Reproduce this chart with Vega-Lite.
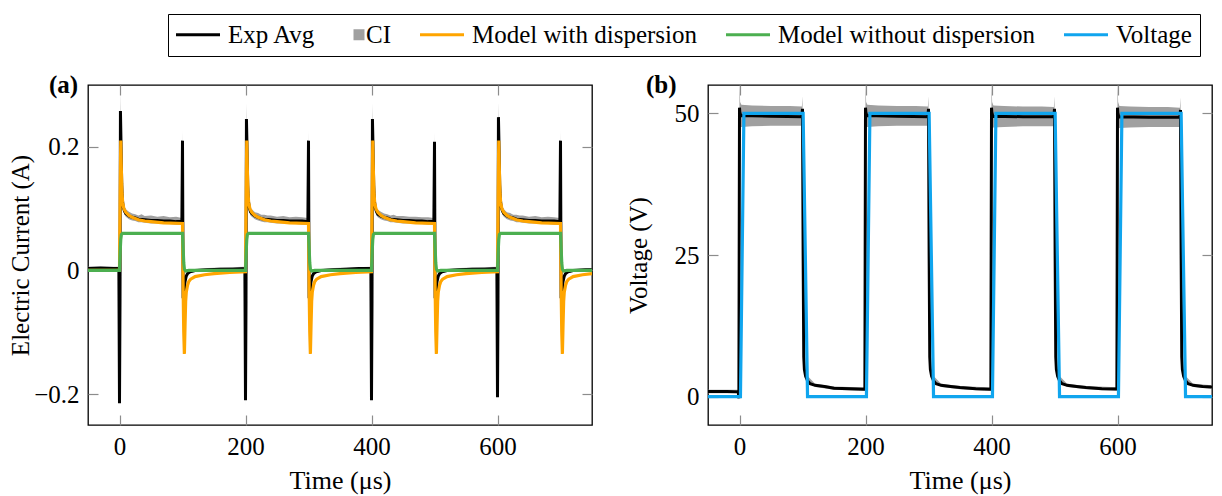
{
  "$schema": "https://vega.github.io/schema/vega-lite/v6.json",
  "padding": {"left": 8, "top": 13, "right": 5, "bottom": 5},
  "background": "white",
  "config": {
    "font": "'Liberation Serif', 'Times New Roman', Times, serif",
    "view": {"stroke": "black", "strokeWidth": 1.3},
    "axis": {
      "labelFont": "'Liberation Serif', 'Times New Roman', Times, serif", "labelFontSize": 25, "labelColor": "black",
      "titleFont": "'Liberation Serif', 'Times New Roman', Times, serif", "titleFontSize": 25, "titleFontWeight": "normal", "titleColor": "black",
      "tickColor": "#8c8c8c", "tickSize": -10, "tickWidth": 1.2, "labelPadding": 19,
      "domain": false, "grid": false
    },
    "legend": {
      "labelFont": "'Liberation Serif', 'Times New Roman', Times, serif", "labelFontSize": 25, "labelColor": "black"
    },
    "title": {"font": "'Liberation Serif', 'Times New Roman', Times, serif"}
  },
  "datasets": {
    "cur": [
      {"s": "Exp Avg", "t": -50, "v": 0.003}, {"s": "Exp Avg", "t": -30, "v": 0.004}, {"s": "Exp Avg", "t": -10, "v": 0.003}, {"s": "Exp Avg", "t": -1, "v": 0.003},
      {"s": "Exp Avg", "t": 0, "v": -0.215}, {"s": "Exp Avg", "t": 0.8, "v": -0.05}, {"s": "Exp Avg", "t": 1.5, "v": 0.258}, {"s": "Exp Avg", "t": 2.5, "v": 0.2}, {"s": "Exp Avg", "t": 3.5, "v": 0.14}, {"s": "Exp Avg", "t": 4.5, "v": 0.115}, {"s": "Exp Avg", "t": 6, "v": 0.102}, {"s": "Exp Avg", "t": 8, "v": 0.096}, {"s": "Exp Avg", "t": 10, "v": 0.092}, {"s": "Exp Avg", "t": 15, "v": 0.088}, {"s": "Exp Avg", "t": 20, "v": 0.086}, {"s": "Exp Avg", "t": 25, "v": 0.085}, {"s": "Exp Avg", "t": 30, "v": 0.083}, {"s": "Exp Avg", "t": 40, "v": 0.082}, {"s": "Exp Avg", "t": 50, "v": 0.081}, {"s": "Exp Avg", "t": 60, "v": 0.081}, {"s": "Exp Avg", "t": 70, "v": 0.08}, {"s": "Exp Avg", "t": 80, "v": 0.08}, {"s": "Exp Avg", "t": 90, "v": 0.079}, {"s": "Exp Avg", "t": 99, "v": 0.079},
      {"s": "Exp Avg", "t": 100, "v": 0.21}, {"s": "Exp Avg", "t": 101, "v": -0.045}, {"s": "Exp Avg", "t": 102, "v": -0.04}, {"s": "Exp Avg", "t": 103, "v": -0.03}, {"s": "Exp Avg", "t": 104, "v": -0.018}, {"s": "Exp Avg", "t": 106, "v": -0.009}, {"s": "Exp Avg", "t": 108, "v": -0.005}, {"s": "Exp Avg", "t": 112, "v": -0.002}, {"s": "Exp Avg", "t": 120, "v": 0.0}, {"s": "Exp Avg", "t": 140, "v": 0.001}, {"s": "Exp Avg", "t": 160, "v": 0.002}, {"s": "Exp Avg", "t": 180, "v": 0.002}, {"s": "Exp Avg", "t": 199, "v": 0.003},
      {"s": "Exp Avg", "t": 200, "v": -0.21}, {"s": "Exp Avg", "t": 200.8, "v": -0.05}, {"s": "Exp Avg", "t": 201.5, "v": 0.245}, {"s": "Exp Avg", "t": 202.5, "v": 0.195}, {"s": "Exp Avg", "t": 203.5, "v": 0.138}, {"s": "Exp Avg", "t": 204.5, "v": 0.114}, {"s": "Exp Avg", "t": 206, "v": 0.101}, {"s": "Exp Avg", "t": 208, "v": 0.095}, {"s": "Exp Avg", "t": 210, "v": 0.092}, {"s": "Exp Avg", "t": 215, "v": 0.088}, {"s": "Exp Avg", "t": 220, "v": 0.086}, {"s": "Exp Avg", "t": 225, "v": 0.084}, {"s": "Exp Avg", "t": 230, "v": 0.083}, {"s": "Exp Avg", "t": 240, "v": 0.082}, {"s": "Exp Avg", "t": 250, "v": 0.081}, {"s": "Exp Avg", "t": 260, "v": 0.081}, {"s": "Exp Avg", "t": 270, "v": 0.08}, {"s": "Exp Avg", "t": 280, "v": 0.08}, {"s": "Exp Avg", "t": 290, "v": 0.08}, {"s": "Exp Avg", "t": 299, "v": 0.079},
      {"s": "Exp Avg", "t": 300, "v": 0.21}, {"s": "Exp Avg", "t": 301, "v": -0.045}, {"s": "Exp Avg", "t": 302, "v": -0.04}, {"s": "Exp Avg", "t": 303, "v": -0.03}, {"s": "Exp Avg", "t": 304, "v": -0.018}, {"s": "Exp Avg", "t": 306, "v": -0.009}, {"s": "Exp Avg", "t": 308, "v": -0.005}, {"s": "Exp Avg", "t": 312, "v": -0.002}, {"s": "Exp Avg", "t": 320, "v": 0.0}, {"s": "Exp Avg", "t": 340, "v": 0.001}, {"s": "Exp Avg", "t": 360, "v": 0.002}, {"s": "Exp Avg", "t": 380, "v": 0.003}, {"s": "Exp Avg", "t": 399, "v": 0.003},
      {"s": "Exp Avg", "t": 400, "v": -0.21}, {"s": "Exp Avg", "t": 400.8, "v": -0.05}, {"s": "Exp Avg", "t": 401.5, "v": 0.245}, {"s": "Exp Avg", "t": 402.5, "v": 0.195}, {"s": "Exp Avg", "t": 403.5, "v": 0.138}, {"s": "Exp Avg", "t": 404.5, "v": 0.114}, {"s": "Exp Avg", "t": 406, "v": 0.101}, {"s": "Exp Avg", "t": 408, "v": 0.095}, {"s": "Exp Avg", "t": 410, "v": 0.091}, {"s": "Exp Avg", "t": 415, "v": 0.088}, {"s": "Exp Avg", "t": 420, "v": 0.086}, {"s": "Exp Avg", "t": 425, "v": 0.085}, {"s": "Exp Avg", "t": 430, "v": 0.083}, {"s": "Exp Avg", "t": 440, "v": 0.082}, {"s": "Exp Avg", "t": 450, "v": 0.081}, {"s": "Exp Avg", "t": 460, "v": 0.081}, {"s": "Exp Avg", "t": 470, "v": 0.08}, {"s": "Exp Avg", "t": 480, "v": 0.08}, {"s": "Exp Avg", "t": 490, "v": 0.079}, {"s": "Exp Avg", "t": 499, "v": 0.079},
      {"s": "Exp Avg", "t": 500, "v": 0.208}, {"s": "Exp Avg", "t": 501, "v": -0.045}, {"s": "Exp Avg", "t": 502, "v": -0.04}, {"s": "Exp Avg", "t": 503, "v": -0.03}, {"s": "Exp Avg", "t": 504, "v": -0.018}, {"s": "Exp Avg", "t": 506, "v": -0.009}, {"s": "Exp Avg", "t": 508, "v": -0.005}, {"s": "Exp Avg", "t": 512, "v": -0.002}, {"s": "Exp Avg", "t": 520, "v": 0.0}, {"s": "Exp Avg", "t": 540, "v": 0.001}, {"s": "Exp Avg", "t": 560, "v": 0.002}, {"s": "Exp Avg", "t": 580, "v": 0.002}, {"s": "Exp Avg", "t": 599, "v": 0.003},
      {"s": "Exp Avg", "t": 600, "v": -0.205}, {"s": "Exp Avg", "t": 600.8, "v": -0.05}, {"s": "Exp Avg", "t": 601.5, "v": 0.248}, {"s": "Exp Avg", "t": 602.5, "v": 0.196}, {"s": "Exp Avg", "t": 603.5, "v": 0.139}, {"s": "Exp Avg", "t": 604.5, "v": 0.115}, {"s": "Exp Avg", "t": 606, "v": 0.102}, {"s": "Exp Avg", "t": 608, "v": 0.096}, {"s": "Exp Avg", "t": 610, "v": 0.092}, {"s": "Exp Avg", "t": 615, "v": 0.088}, {"s": "Exp Avg", "t": 620, "v": 0.086}, {"s": "Exp Avg", "t": 625, "v": 0.085}, {"s": "Exp Avg", "t": 630, "v": 0.083}, {"s": "Exp Avg", "t": 640, "v": 0.082}, {"s": "Exp Avg", "t": 650, "v": 0.081}, {"s": "Exp Avg", "t": 660, "v": 0.081}, {"s": "Exp Avg", "t": 670, "v": 0.08}, {"s": "Exp Avg", "t": 680, "v": 0.08}, {"s": "Exp Avg", "t": 690, "v": 0.08}, {"s": "Exp Avg", "t": 699, "v": 0.079},
      {"s": "Exp Avg", "t": 700, "v": 0.21}, {"s": "Exp Avg", "t": 701, "v": -0.045}, {"s": "Exp Avg", "t": 702, "v": -0.04}, {"s": "Exp Avg", "t": 703, "v": -0.03}, {"s": "Exp Avg", "t": 704, "v": -0.018}, {"s": "Exp Avg", "t": 706, "v": -0.009}, {"s": "Exp Avg", "t": 708, "v": -0.005}, {"s": "Exp Avg", "t": 712, "v": -0.002}, {"s": "Exp Avg", "t": 720, "v": 0.0}, {"s": "Exp Avg", "t": 740, "v": 0.001}, {"s": "Exp Avg", "t": 750, "v": 0.001},

      {"s": "Model with dispersion", "t": -50, "v": 0.0}, {"s": "Model with dispersion", "t": 0, "v": 0.0}, {"s": "Model with dispersion", "t": 1, "v": 0.12}, {"s": "Model with dispersion", "t": 2, "v": 0.21}, {"s": "Model with dispersion", "t": 3, "v": 0.16}, {"s": "Model with dispersion", "t": 4, "v": 0.125}, {"s": "Model with dispersion", "t": 5, "v": 0.11}, {"s": "Model with dispersion", "t": 7, "v": 0.1}, {"s": "Model with dispersion", "t": 10, "v": 0.094}, {"s": "Model with dispersion", "t": 15, "v": 0.089}, {"s": "Model with dispersion", "t": 20, "v": 0.086}, {"s": "Model with dispersion", "t": 30, "v": 0.082}, {"s": "Model with dispersion", "t": 40, "v": 0.08}, {"s": "Model with dispersion", "t": 50, "v": 0.079}, {"s": "Model with dispersion", "t": 70, "v": 0.077}, {"s": "Model with dispersion", "t": 100, "v": 0.076},
      {"s": "Model with dispersion", "t": 101, "v": -0.03}, {"s": "Model with dispersion", "t": 102, "v": -0.1}, {"s": "Model with dispersion", "t": 103, "v": -0.135}, {"s": "Model with dispersion", "t": 104, "v": -0.09}, {"s": "Model with dispersion", "t": 105, "v": -0.05}, {"s": "Model with dispersion", "t": 106, "v": -0.035}, {"s": "Model with dispersion", "t": 108, "v": -0.024}, {"s": "Model with dispersion", "t": 110, "v": -0.018}, {"s": "Model with dispersion", "t": 113, "v": -0.014}, {"s": "Model with dispersion", "t": 120, "v": -0.01}, {"s": "Model with dispersion", "t": 135, "v": -0.007}, {"s": "Model with dispersion", "t": 150, "v": -0.005}, {"s": "Model with dispersion", "t": 175, "v": -0.003}, {"s": "Model with dispersion", "t": 200, "v": -0.002},
      {"s": "Model with dispersion", "t": 201, "v": 0.12}, {"s": "Model with dispersion", "t": 202, "v": 0.21}, {"s": "Model with dispersion", "t": 203, "v": 0.16}, {"s": "Model with dispersion", "t": 204, "v": 0.125}, {"s": "Model with dispersion", "t": 205, "v": 0.11}, {"s": "Model with dispersion", "t": 207, "v": 0.1}, {"s": "Model with dispersion", "t": 210, "v": 0.094}, {"s": "Model with dispersion", "t": 215, "v": 0.089}, {"s": "Model with dispersion", "t": 220, "v": 0.086}, {"s": "Model with dispersion", "t": 230, "v": 0.082}, {"s": "Model with dispersion", "t": 240, "v": 0.08}, {"s": "Model with dispersion", "t": 250, "v": 0.079}, {"s": "Model with dispersion", "t": 270, "v": 0.077}, {"s": "Model with dispersion", "t": 300, "v": 0.076},
      {"s": "Model with dispersion", "t": 301, "v": -0.03}, {"s": "Model with dispersion", "t": 302, "v": -0.1}, {"s": "Model with dispersion", "t": 303, "v": -0.135}, {"s": "Model with dispersion", "t": 304, "v": -0.09}, {"s": "Model with dispersion", "t": 305, "v": -0.05}, {"s": "Model with dispersion", "t": 306, "v": -0.035}, {"s": "Model with dispersion", "t": 308, "v": -0.024}, {"s": "Model with dispersion", "t": 310, "v": -0.018}, {"s": "Model with dispersion", "t": 313, "v": -0.014}, {"s": "Model with dispersion", "t": 320, "v": -0.01}, {"s": "Model with dispersion", "t": 335, "v": -0.007}, {"s": "Model with dispersion", "t": 350, "v": -0.005}, {"s": "Model with dispersion", "t": 375, "v": -0.003}, {"s": "Model with dispersion", "t": 400, "v": -0.002},
      {"s": "Model with dispersion", "t": 401, "v": 0.12}, {"s": "Model with dispersion", "t": 402, "v": 0.21}, {"s": "Model with dispersion", "t": 403, "v": 0.16}, {"s": "Model with dispersion", "t": 404, "v": 0.125}, {"s": "Model with dispersion", "t": 405, "v": 0.11}, {"s": "Model with dispersion", "t": 407, "v": 0.1}, {"s": "Model with dispersion", "t": 410, "v": 0.094}, {"s": "Model with dispersion", "t": 415, "v": 0.089}, {"s": "Model with dispersion", "t": 420, "v": 0.086}, {"s": "Model with dispersion", "t": 430, "v": 0.082}, {"s": "Model with dispersion", "t": 440, "v": 0.08}, {"s": "Model with dispersion", "t": 450, "v": 0.079}, {"s": "Model with dispersion", "t": 470, "v": 0.077}, {"s": "Model with dispersion", "t": 500, "v": 0.076},
      {"s": "Model with dispersion", "t": 501, "v": -0.03}, {"s": "Model with dispersion", "t": 502, "v": -0.1}, {"s": "Model with dispersion", "t": 503, "v": -0.135}, {"s": "Model with dispersion", "t": 504, "v": -0.09}, {"s": "Model with dispersion", "t": 505, "v": -0.05}, {"s": "Model with dispersion", "t": 506, "v": -0.035}, {"s": "Model with dispersion", "t": 508, "v": -0.024}, {"s": "Model with dispersion", "t": 510, "v": -0.018}, {"s": "Model with dispersion", "t": 513, "v": -0.014}, {"s": "Model with dispersion", "t": 520, "v": -0.01}, {"s": "Model with dispersion", "t": 535, "v": -0.007}, {"s": "Model with dispersion", "t": 550, "v": -0.005}, {"s": "Model with dispersion", "t": 575, "v": -0.003}, {"s": "Model with dispersion", "t": 600, "v": -0.002},
      {"s": "Model with dispersion", "t": 601, "v": 0.12}, {"s": "Model with dispersion", "t": 602, "v": 0.21}, {"s": "Model with dispersion", "t": 603, "v": 0.16}, {"s": "Model with dispersion", "t": 604, "v": 0.125}, {"s": "Model with dispersion", "t": 605, "v": 0.11}, {"s": "Model with dispersion", "t": 607, "v": 0.1}, {"s": "Model with dispersion", "t": 610, "v": 0.094}, {"s": "Model with dispersion", "t": 615, "v": 0.089}, {"s": "Model with dispersion", "t": 620, "v": 0.086}, {"s": "Model with dispersion", "t": 630, "v": 0.082}, {"s": "Model with dispersion", "t": 640, "v": 0.08}, {"s": "Model with dispersion", "t": 650, "v": 0.079}, {"s": "Model with dispersion", "t": 670, "v": 0.077}, {"s": "Model with dispersion", "t": 700, "v": 0.076},
      {"s": "Model with dispersion", "t": 701, "v": -0.03}, {"s": "Model with dispersion", "t": 702, "v": -0.1}, {"s": "Model with dispersion", "t": 703, "v": -0.135}, {"s": "Model with dispersion", "t": 704, "v": -0.09}, {"s": "Model with dispersion", "t": 705, "v": -0.05}, {"s": "Model with dispersion", "t": 706, "v": -0.035}, {"s": "Model with dispersion", "t": 708, "v": -0.024}, {"s": "Model with dispersion", "t": 710, "v": -0.018}, {"s": "Model with dispersion", "t": 713, "v": -0.014}, {"s": "Model with dispersion", "t": 720, "v": -0.01}, {"s": "Model with dispersion", "t": 735, "v": -0.007}, {"s": "Model with dispersion", "t": 750, "v": -0.005},

      {"s": "Model without dispersion", "t": -50, "v": 0.0}, {"s": "Model without dispersion", "t": 0, "v": 0.0}, {"s": "Model without dispersion", "t": 1, "v": 0.03}, {"s": "Model without dispersion", "t": 2, "v": 0.05}, {"s": "Model without dispersion", "t": 3, "v": 0.058}, {"s": "Model without dispersion", "t": 5, "v": 0.06}, {"s": "Model without dispersion", "t": 100, "v": 0.06}, {"s": "Model without dispersion", "t": 101, "v": 0.035}, {"s": "Model without dispersion", "t": 102, "v": 0.012}, {"s": "Model without dispersion", "t": 103, "v": 0.002}, {"s": "Model without dispersion", "t": 105, "v": -0.001}, {"s": "Model without dispersion", "t": 110, "v": 0.0},
      {"s": "Model without dispersion", "t": 200, "v": 0.0}, {"s": "Model without dispersion", "t": 201, "v": 0.03}, {"s": "Model without dispersion", "t": 202, "v": 0.05}, {"s": "Model without dispersion", "t": 203, "v": 0.058}, {"s": "Model without dispersion", "t": 205, "v": 0.06}, {"s": "Model without dispersion", "t": 300, "v": 0.06}, {"s": "Model without dispersion", "t": 301, "v": 0.035}, {"s": "Model without dispersion", "t": 302, "v": 0.012}, {"s": "Model without dispersion", "t": 303, "v": 0.002}, {"s": "Model without dispersion", "t": 305, "v": -0.001}, {"s": "Model without dispersion", "t": 310, "v": 0.0},
      {"s": "Model without dispersion", "t": 400, "v": 0.0}, {"s": "Model without dispersion", "t": 401, "v": 0.03}, {"s": "Model without dispersion", "t": 402, "v": 0.05}, {"s": "Model without dispersion", "t": 403, "v": 0.058}, {"s": "Model without dispersion", "t": 405, "v": 0.06}, {"s": "Model without dispersion", "t": 500, "v": 0.06}, {"s": "Model without dispersion", "t": 501, "v": 0.035}, {"s": "Model without dispersion", "t": 502, "v": 0.012}, {"s": "Model without dispersion", "t": 503, "v": 0.002}, {"s": "Model without dispersion", "t": 505, "v": -0.001}, {"s": "Model without dispersion", "t": 510, "v": 0.0},
      {"s": "Model without dispersion", "t": 600, "v": 0.0}, {"s": "Model without dispersion", "t": 601, "v": 0.03}, {"s": "Model without dispersion", "t": 602, "v": 0.05}, {"s": "Model without dispersion", "t": 603, "v": 0.058}, {"s": "Model without dispersion", "t": 605, "v": 0.06}, {"s": "Model without dispersion", "t": 700, "v": 0.06}, {"s": "Model without dispersion", "t": 701, "v": 0.035}, {"s": "Model without dispersion", "t": 702, "v": 0.012}, {"s": "Model without dispersion", "t": 703, "v": 0.002}, {"s": "Model without dispersion", "t": 705, "v": -0.001}, {"s": "Model without dispersion", "t": 710, "v": 0.0}, {"s": "Model without dispersion", "t": 750, "v": 0.0}
    ],
    "curci": [
      {"t": -50, "lo": 0.0, "hi": 0.006}, {"t": -1, "lo": 0.0, "hi": 0.006},
      {"t": 0, "lo": -0.222, "hi": -0.205}, {"t": 1.5, "lo": 0.245, "hi": 0.288}, {"t": 2.5, "lo": 0.19, "hi": 0.215}, {"t": 3.5, "lo": 0.13, "hi": 0.15}, {"t": 4.5, "lo": 0.108, "hi": 0.124}, {"t": 6, "lo": 0.096, "hi": 0.109}, {"t": 8, "lo": 0.09, "hi": 0.103}, {"t": 10, "lo": 0.087, "hi": 0.099}, {"t": 15, "lo": 0.083, "hi": 0.095}, {"t": 20, "lo": 0.081, "hi": 0.092}, {"t": 25, "lo": 0.08, "hi": 0.091}, {"t": 30, "lo": 0.078, "hi": 0.089}, {"t": 35, "lo": 0.078, "hi": 0.091}, {"t": 40, "lo": 0.077, "hi": 0.088}, {"t": 50, "lo": 0.076, "hi": 0.089}, {"t": 60, "lo": 0.076, "hi": 0.087}, {"t": 70, "lo": 0.075, "hi": 0.088}, {"t": 80, "lo": 0.075, "hi": 0.086}, {"t": 90, "lo": 0.074, "hi": 0.087}, {"t": 99, "lo": 0.074, "hi": 0.085},
      {"t": 100, "lo": 0.2, "hi": 0.226}, {"t": 101, "lo": -0.05, "hi": -0.04}, {"t": 103, "lo": -0.034, "hi": -0.026}, {"t": 106, "lo": -0.012, "hi": -0.006}, {"t": 112, "lo": -0.004, "hi": 0.0}, {"t": 120, "lo": -0.002, "hi": 0.002}, {"t": 140, "lo": -0.001, "hi": 0.004}, {"t": 199, "lo": 0.0, "hi": 0.006},
      {"t": 200, "lo": -0.218, "hi": -0.2}, {"t": 201.5, "lo": 0.232, "hi": 0.27}, {"t": 202.5, "lo": 0.185, "hi": 0.21}, {"t": 203.5, "lo": 0.128, "hi": 0.148}, {"t": 204.5, "lo": 0.107, "hi": 0.122}, {"t": 206, "lo": 0.095, "hi": 0.108}, {"t": 208, "lo": 0.089, "hi": 0.102}, {"t": 210, "lo": 0.087, "hi": 0.099}, {"t": 215, "lo": 0.083, "hi": 0.094}, {"t": 220, "lo": 0.081, "hi": 0.093}, {"t": 225, "lo": 0.079, "hi": 0.09}, {"t": 230, "lo": 0.078, "hi": 0.09}, {"t": 235, "lo": 0.078, "hi": 0.089}, {"t": 240, "lo": 0.077, "hi": 0.089}, {"t": 250, "lo": 0.076, "hi": 0.087}, {"t": 260, "lo": 0.076, "hi": 0.088}, {"t": 270, "lo": 0.075, "hi": 0.086}, {"t": 280, "lo": 0.075, "hi": 0.087}, {"t": 290, "lo": 0.074, "hi": 0.086}, {"t": 299, "lo": 0.074, "hi": 0.085},
      {"t": 300, "lo": 0.2, "hi": 0.226}, {"t": 301, "lo": -0.05, "hi": -0.04}, {"t": 303, "lo": -0.034, "hi": -0.026}, {"t": 306, "lo": -0.012, "hi": -0.006}, {"t": 312, "lo": -0.004, "hi": 0.0}, {"t": 320, "lo": -0.002, "hi": 0.002}, {"t": 340, "lo": -0.001, "hi": 0.004}, {"t": 399, "lo": 0.0, "hi": 0.006},
      {"t": 400, "lo": -0.218, "hi": -0.2}, {"t": 401.5, "lo": 0.232, "hi": 0.27}, {"t": 402.5, "lo": 0.185, "hi": 0.21}, {"t": 403.5, "lo": 0.128, "hi": 0.148}, {"t": 404.5, "lo": 0.107, "hi": 0.122}, {"t": 406, "lo": 0.095, "hi": 0.108}, {"t": 408, "lo": 0.089, "hi": 0.102}, {"t": 410, "lo": 0.086, "hi": 0.098}, {"t": 415, "lo": 0.083, "hi": 0.095}, {"t": 420, "lo": 0.081, "hi": 0.092}, {"t": 425, "lo": 0.08, "hi": 0.091}, {"t": 430, "lo": 0.078, "hi": 0.089}, {"t": 435, "lo": 0.078, "hi": 0.09}, {"t": 440, "lo": 0.077, "hi": 0.088}, {"t": 450, "lo": 0.076, "hi": 0.088}, {"t": 460, "lo": 0.076, "hi": 0.087}, {"t": 470, "lo": 0.075, "hi": 0.087}, {"t": 480, "lo": 0.075, "hi": 0.086}, {"t": 490, "lo": 0.074, "hi": 0.086}, {"t": 499, "lo": 0.074, "hi": 0.085},
      {"t": 500, "lo": 0.198, "hi": 0.224}, {"t": 501, "lo": -0.05, "hi": -0.04}, {"t": 503, "lo": -0.034, "hi": -0.026}, {"t": 506, "lo": -0.012, "hi": -0.006}, {"t": 512, "lo": -0.004, "hi": 0.0}, {"t": 520, "lo": -0.002, "hi": 0.002}, {"t": 540, "lo": -0.001, "hi": 0.004}, {"t": 599, "lo": 0.0, "hi": 0.006},
      {"t": 600, "lo": -0.213, "hi": -0.196}, {"t": 601.5, "lo": 0.235, "hi": 0.272}, {"t": 602.5, "lo": 0.186, "hi": 0.211}, {"t": 603.5, "lo": 0.129, "hi": 0.149}, {"t": 604.5, "lo": 0.108, "hi": 0.123}, {"t": 606, "lo": 0.096, "hi": 0.109}, {"t": 608, "lo": 0.09, "hi": 0.103}, {"t": 610, "lo": 0.087, "hi": 0.099}, {"t": 615, "lo": 0.083, "hi": 0.094}, {"t": 620, "lo": 0.081, "hi": 0.093}, {"t": 625, "lo": 0.08, "hi": 0.09}, {"t": 630, "lo": 0.078, "hi": 0.09}, {"t": 635, "lo": 0.078, "hi": 0.089}, {"t": 640, "lo": 0.077, "hi": 0.089}, {"t": 650, "lo": 0.076, "hi": 0.087}, {"t": 660, "lo": 0.076, "hi": 0.088}, {"t": 670, "lo": 0.075, "hi": 0.086}, {"t": 680, "lo": 0.075, "hi": 0.087}, {"t": 690, "lo": 0.074, "hi": 0.086}, {"t": 699, "lo": 0.074, "hi": 0.085},
      {"t": 700, "lo": 0.2, "hi": 0.226}, {"t": 701, "lo": -0.05, "hi": -0.04}, {"t": 703, "lo": -0.034, "hi": -0.026}, {"t": 706, "lo": -0.012, "hi": -0.006}, {"t": 712, "lo": -0.004, "hi": 0.0}, {"t": 720, "lo": -0.002, "hi": 0.002}, {"t": 750, "lo": -0.001, "hi": 0.004}
    ],
    "vol": [
      {"s": "Exp Avg", "t": -50, "v": 0.9}, {"s": "Exp Avg", "t": -20, "v": 0.9}, {"s": "Exp Avg", "t": -2, "v": 0.85}, {"s": "Exp Avg", "t": -1, "v": -0.3},
      {"s": "Exp Avg", "t": 0, "v": 51}, {"s": "Exp Avg", "t": 0.5, "v": 50.2}, {"s": "Exp Avg", "t": 2, "v": 49.6}, {"s": "Exp Avg", "t": 50, "v": 49.5}, {"s": "Exp Avg", "t": 99, "v": 49.4}, {"s": "Exp Avg", "t": 100, "v": 50.8}, {"s": "Exp Avg", "t": 101, "v": 25}, {"s": "Exp Avg", "t": 102, "v": 7}, {"s": "Exp Avg", "t": 103, "v": 4.8}, {"s": "Exp Avg", "t": 105, "v": 3.6}, {"s": "Exp Avg", "t": 108, "v": 2.8}, {"s": "Exp Avg", "t": 112, "v": 2.3}, {"s": "Exp Avg", "t": 120, "v": 2.0}, {"s": "Exp Avg", "t": 135, "v": 1.8}, {"s": "Exp Avg", "t": 150, "v": 1.5}, {"s": "Exp Avg", "t": 175, "v": 1.4}, {"s": "Exp Avg", "t": 199, "v": 1.3},
      {"s": "Exp Avg", "t": 200, "v": 51}, {"s": "Exp Avg", "t": 200.5, "v": 50.2}, {"s": "Exp Avg", "t": 202, "v": 49.6}, {"s": "Exp Avg", "t": 250, "v": 49.5}, {"s": "Exp Avg", "t": 299, "v": 49.4}, {"s": "Exp Avg", "t": 300, "v": 50.8}, {"s": "Exp Avg", "t": 301, "v": 25}, {"s": "Exp Avg", "t": 302, "v": 7}, {"s": "Exp Avg", "t": 303, "v": 4.8}, {"s": "Exp Avg", "t": 305, "v": 3.6}, {"s": "Exp Avg", "t": 308, "v": 2.8}, {"s": "Exp Avg", "t": 312, "v": 2.3}, {"s": "Exp Avg", "t": 320, "v": 2.0}, {"s": "Exp Avg", "t": 335, "v": 1.8}, {"s": "Exp Avg", "t": 350, "v": 1.6}, {"s": "Exp Avg", "t": 375, "v": 1.4}, {"s": "Exp Avg", "t": 399, "v": 1.3},
      {"s": "Exp Avg", "t": 400, "v": 51}, {"s": "Exp Avg", "t": 400.5, "v": 50.2}, {"s": "Exp Avg", "t": 402, "v": 49.5}, {"s": "Exp Avg", "t": 450, "v": 49.4}, {"s": "Exp Avg", "t": 499, "v": 49.4}, {"s": "Exp Avg", "t": 500, "v": 50.8}, {"s": "Exp Avg", "t": 501, "v": 25}, {"s": "Exp Avg", "t": 502, "v": 7}, {"s": "Exp Avg", "t": 503, "v": 4.8}, {"s": "Exp Avg", "t": 505, "v": 3.6}, {"s": "Exp Avg", "t": 508, "v": 2.8}, {"s": "Exp Avg", "t": 512, "v": 2.3}, {"s": "Exp Avg", "t": 520, "v": 2.0}, {"s": "Exp Avg", "t": 535, "v": 1.8}, {"s": "Exp Avg", "t": 550, "v": 1.6}, {"s": "Exp Avg", "t": 575, "v": 1.4}, {"s": "Exp Avg", "t": 599, "v": 1.35},
      {"s": "Exp Avg", "t": 600, "v": 51}, {"s": "Exp Avg", "t": 600.5, "v": 50.1}, {"s": "Exp Avg", "t": 602, "v": 49.4}, {"s": "Exp Avg", "t": 650, "v": 49.3}, {"s": "Exp Avg", "t": 699, "v": 49.3}, {"s": "Exp Avg", "t": 700, "v": 50.6}, {"s": "Exp Avg", "t": 701, "v": 25}, {"s": "Exp Avg", "t": 702, "v": 7}, {"s": "Exp Avg", "t": 703, "v": 4.8}, {"s": "Exp Avg", "t": 705, "v": 3.6}, {"s": "Exp Avg", "t": 708, "v": 2.8}, {"s": "Exp Avg", "t": 712, "v": 2.3}, {"s": "Exp Avg", "t": 720, "v": 2.0}, {"s": "Exp Avg", "t": 735, "v": 1.8}, {"s": "Exp Avg", "t": 750, "v": 1.7},

      {"s": "Voltage", "t": -50, "v": 0}, {"s": "Voltage", "t": 1.5, "v": 0}, {"s": "Voltage", "t": 7, "v": 50}, {"s": "Voltage", "t": 101, "v": 50}, {"s": "Voltage", "t": 108, "v": 0},
      {"s": "Voltage", "t": 201.5, "v": 0}, {"s": "Voltage", "t": 207, "v": 50}, {"s": "Voltage", "t": 301, "v": 50}, {"s": "Voltage", "t": 308, "v": 0},
      {"s": "Voltage", "t": 401.5, "v": 0}, {"s": "Voltage", "t": 407, "v": 50}, {"s": "Voltage", "t": 501, "v": 50}, {"s": "Voltage", "t": 508, "v": 0},
      {"s": "Voltage", "t": 601.5, "v": 0}, {"s": "Voltage", "t": 607, "v": 50}, {"s": "Voltage", "t": 701, "v": 50}, {"s": "Voltage", "t": 708, "v": 0}, {"s": "Voltage", "t": 750, "v": 0}
    ],
    "volci": [
      {"t": -50, "lo": 0.6, "hi": 1.2}, {"t": -2, "lo": 0.6, "hi": 1.2}, {"t": -1, "lo": -0.6, "hi": 0.0},
      {"t": 0, "lo": 47.5, "hi": 56}, {"t": 1, "lo": 47.5, "hi": 52}, {"t": 3, "lo": 47.6, "hi": 51.5}, {"t": 20, "lo": 47.7, "hi": 51.4}, {"t": 50, "lo": 47.8, "hi": 51.3}, {"t": 80, "lo": 47.8, "hi": 51.3}, {"t": 99, "lo": 47.8, "hi": 51.2}, {"t": 100, "lo": 48.5, "hi": 53}, {"t": 101, "lo": 20, "hi": 30}, {"t": 102, "lo": 6, "hi": 8}, {"t": 105, "lo": 3.2, "hi": 4}, {"t": 120, "lo": 1.7, "hi": 2.3}, {"t": 150, "lo": 1.2, "hi": 1.8}, {"t": 199, "lo": 1.0, "hi": 1.6},
      {"t": 200, "lo": 47.5, "hi": 56}, {"t": 201, "lo": 47.5, "hi": 52}, {"t": 203, "lo": 47.6, "hi": 51.5}, {"t": 220, "lo": 47.7, "hi": 51.4}, {"t": 250, "lo": 47.8, "hi": 51.3}, {"t": 280, "lo": 47.8, "hi": 51.3}, {"t": 299, "lo": 47.8, "hi": 51.2}, {"t": 300, "lo": 48.5, "hi": 53}, {"t": 301, "lo": 20, "hi": 30}, {"t": 302, "lo": 6, "hi": 8}, {"t": 305, "lo": 3.2, "hi": 4}, {"t": 320, "lo": 1.7, "hi": 2.3}, {"t": 350, "lo": 1.3, "hi": 1.9}, {"t": 399, "lo": 1.0, "hi": 1.6},
      {"t": 400, "lo": 47.5, "hi": 56}, {"t": 401, "lo": 47.4, "hi": 52}, {"t": 403, "lo": 47.5, "hi": 51.4}, {"t": 420, "lo": 47.6, "hi": 51.3}, {"t": 450, "lo": 47.7, "hi": 51.2}, {"t": 480, "lo": 47.7, "hi": 51.2}, {"t": 499, "lo": 47.7, "hi": 51.1}, {"t": 500, "lo": 48.5, "hi": 53}, {"t": 501, "lo": 20, "hi": 30}, {"t": 502, "lo": 6, "hi": 8}, {"t": 505, "lo": 3.2, "hi": 4}, {"t": 520, "lo": 1.7, "hi": 2.3}, {"t": 550, "lo": 1.3, "hi": 1.9}, {"t": 599, "lo": 1.05, "hi": 1.65},
      {"t": 600, "lo": 47.4, "hi": 56}, {"t": 601, "lo": 47.3, "hi": 52}, {"t": 603, "lo": 47.4, "hi": 51.3}, {"t": 620, "lo": 47.5, "hi": 51.2}, {"t": 650, "lo": 47.6, "hi": 51.1}, {"t": 680, "lo": 47.6, "hi": 51.1}, {"t": 699, "lo": 47.6, "hi": 51.0}, {"t": 700, "lo": 48.3, "hi": 52.8}, {"t": 701, "lo": 20, "hi": 30}, {"t": 702, "lo": 6, "hi": 8}, {"t": 705, "lo": 3.2, "hi": 4}, {"t": 720, "lo": 1.7, "hi": 2.3}, {"t": 750, "lo": 1.4, "hi": 2.0}
    ]
  },
  "hconcat": [
    {
      "width": 504, "height": 340,
      "title": {"text": "(a)", "anchor": "start", "frame": "group", "fontSize": 25, "fontWeight": "bold", "color": "black", "dx": -39, "dy": 26, "offset": 0, "baseline": "middle"},
      "resolve": {"axis": {"x": "independent", "y": "independent"}},
      "layer": [
        {
          "data": {"name": "curci"},
          "mark": {"type": "area", "clip": true},
          "encoding": {
            "x": {"field": "t", "type": "quantitative", "scale": {"domain": [-50, 750], "nice": false, "zero": false}, "axis": {"orient": "bottom", "values": [0, 200, 400, 600], "title": "Time (μs)", "titlePadding": 8, "titleFontSize": 26}},
            "y": {"field": "lo", "type": "quantitative", "scale": {"domain": [-0.25, 0.3], "nice": false, "zero": false}, "axis": {"orient": "left", "values": [-0.2, 0, 0.2], "format": ".1~f", "title": "Electric Current (A)", "titlePadding": 0}},
            "y2": {"field": "hi"},
            "color": {
              "datum": "CI",
              "title": null,
              "scale": {"domain": ["Exp Avg", "CI", "Model with dispersion", "Model without dispersion", "Voltage"], "range": ["#000000", "#a0a0a0", "#ffa500", "#4caf50", "#10a5ee"]},
              "legend": {
                "orient": "none", "legendX": 80, "legendY": -71, "direction": "horizontal", "columns": 5,
                "title": null, "symbolType": "M-1.136,0H2.864", "symbolSize": 484, "symbolStrokeWidth": 3,
                "labelOffset": 27, "columnPadding": 23, "padding": 8, "strokeColor": "black", "fillColor": "white",
                "labelFontSize": 25, "labelLimit": 500,
                "encode": {
                  "symbols": {
                    "update": {
                      "shape": {"signal": "datum.value === 'CI' ? 'M0.318,-0.364H1.045V0.364H0.318Z' : 'M-1.136,0H2.864'"},
                      "fill": {"signal": "datum.value === 'CI' ? '#b3b3b3' : 'transparent'"},
                      "stroke": {"signal": "datum.value === 'CI' ? 'transparent' : scale('color', datum.value)"},
                      "strokeWidth": {"value": 3},
                      "opacity": {"value": 1}
                    }
                  },
                  "labels": {
                    "update": {
                      "x": {"signal": "datum.value === 'CI' ? 27 : 52"}
                    }
                  }
                }
              }
            }
          }
        },
        {
          "data": {"name": "cur"},
          "transform": [{"filter": "datum.s === 'Exp Avg'"}],
          "mark": {"type": "line", "strokeWidth": 3, "clip": true},
          "encoding": {
            "x": {"field": "t", "type": "quantitative", "axis": {"orient": "top", "values": [0, 200, 400, 600], "labels": false, "title": null}},
            "y": {"field": "v", "type": "quantitative", "axis": {"orient": "right", "values": [-0.2, 0, 0.2], "labels": false, "title": null}},
            "color": {"field": "s", "type": "nominal", "title": null}
          }
        },
        {
          "data": {"name": "cur"},
          "transform": [{"filter": "datum.s !== 'Exp Avg'"}],
          "mark": {"type": "line", "strokeWidth": 3.2, "clip": true},
          "encoding": {
            "x": {"field": "t", "type": "quantitative", "axis": null},
            "y": {"field": "v", "type": "quantitative", "axis": null},
            "color": {"field": "s", "type": "nominal", "title": null}
          }
        }
      ]
    },
    {
      "width": 504, "height": 340,
      "title": {"text": "(b)", "anchor": "start", "frame": "group", "fontSize": 25, "fontWeight": "bold", "color": "black", "dx": -62, "dy": 26, "offset": 0, "baseline": "middle"},
      "resolve": {"axis": {"x": "independent", "y": "independent"}},
      "layer": [
        {
          "data": {"name": "volci"},
          "mark": {"type": "area", "clip": true},
          "encoding": {
            "x": {"field": "t", "type": "quantitative", "scale": {"domain": [-50, 750], "nice": false, "zero": false}, "axis": {"orient": "bottom", "values": [0, 200, 400, 600], "title": "Time (μs)", "titlePadding": 8, "titleFontSize": 26}},
            "y": {"field": "lo", "type": "quantitative", "scale": {"domain": [-5, 55], "nice": false, "zero": false}, "axis": {"orient": "left", "values": [0, 25, 50], "title": "Voltage (V)", "titlePadding": 23}},
            "y2": {"field": "hi"},
            "color": {"datum": "CI", "title": null}
          }
        },
        {
          "data": {"name": "vol"},
          "transform": [{"filter": "datum.s === 'Exp Avg'"}],
          "mark": {"type": "line", "strokeWidth": 3, "clip": true},
          "encoding": {
            "x": {"field": "t", "type": "quantitative", "axis": {"orient": "top", "values": [0, 200, 400, 600], "labels": false, "title": null}},
            "y": {"field": "v", "type": "quantitative", "axis": {"orient": "right", "values": [0, 25, 50], "labels": false, "title": null}},
            "color": {"field": "s", "type": "nominal", "title": null}
          }
        },
        {
          "data": {"name": "vol"},
          "transform": [{"filter": "datum.s !== 'Exp Avg'"}],
          "mark": {"type": "line", "strokeWidth": 3.2, "clip": true},
          "encoding": {
            "x": {"field": "t", "type": "quantitative", "axis": null},
            "y": {"field": "v", "type": "quantitative", "axis": null},
            "color": {"field": "s", "type": "nominal", "title": null}
          }
        }
      ]
    }
  ],
  "spacing": 31,
  "resolve": {"scale": {"color": "shared"}}
}
